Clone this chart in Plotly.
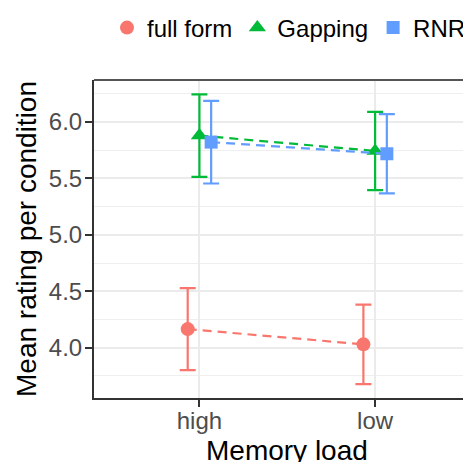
import plotly.graph_objects as go

categories = ["high", "low"]
cat_pos = [1, 2]
series = ["full form", "Gapping", "RNR"]
means = {
    "full form": [4.165, 4.030],
    "Gapping": [5.878, 5.742],
    "RNR": [5.820, 5.717],
}
errors = {
    "full form": [0.363, 0.352],
    "Gapping": [0.365, 0.346],
    "RNR": [0.366, 0.351],
}
x_title = "Memory load"
y_title = "Mean rating per condition"
dodge = [-0.0667, 0.0, 0.0667]
colors = ["#F8766D", "#00BA38", "#619CFF"]
symbols = ["circle", "triangle-up", "square"]
sizes = [14, 15, 13]

# page body has an 8px default margin; the figure is sized to fill the rest
W, H = 463, 454

fig = go.Figure()
for i, s in enumerate(series):
    xs = [p + dodge[i] for p in cat_pos]
    fig.add_trace(go.Scatter(
        x=xs, y=means[s], mode="lines", showlegend=False,
        line=dict(color=colors[i], width=2.2, dash="9px,6px"),
        hoverinfo="skip",
    ))
    fig.add_trace(go.Scatter(
        x=xs, y=means[s], mode="markers", name=s,
        marker=dict(color=colors[i], symbol=symbols[i], size=sizes[i]),
        error_y=dict(type="data", array=errors[s], color=colors[i],
                     thickness=2.2, width=8),
    ))

fig.update_layout(
    width=W, height=H,
    margin=dict(l=86, r=0, t=72, b=64, autoexpand=False),
    paper_bgcolor="white", plot_bgcolor="white",
    font=dict(family="Liberation Sans, Arial, sans-serif", color="black"),
    showlegend=True,
    legend=dict(
        orientation="h", xref="container", yref="container",
        x=99 / W, xanchor="left", y=1 - 20 / H, yanchor="middle",
        font=dict(size=24, color="black"),
        itemsizing="trace", bgcolor="rgba(0,0,0,0)",
    ),
    xaxis=dict(
        range=[0.4, 0.4 + 377 / 175.7],
        tickvals=cat_pos, ticktext=categories,
        showgrid=True, gridcolor="#EBEBEB", gridwidth=1.5,
        zeroline=False,
        showline=True, linecolor="#333333", linewidth=2,
        ticks="outside", ticklen=7, tickwidth=2, tickcolor="#333333",
        tickfont=dict(size=24, color="#4D4D4D"),
        ticklabelstandoff=-7,
    ),
    yaxis=dict(
        range=[3.555, 6.37],
        tick0=4.0, dtick=0.5, tickformat=".1f",
        showgrid=True, gridcolor="#EBEBEB", gridwidth=1.5,
        minor=dict(dtick=0.25, tick0=3.75, showgrid=True, gridcolor="#EFEFEF", gridwidth=1),
        zeroline=False,
        showline=True, linecolor="#333333", linewidth=2,
        ticks="outside", ticklen=7, tickwidth=2, tickcolor="#333333",
        tickfont=dict(size=24, color="#4D4D4D"),
        ticklabelstandoff=-2,
        title=dict(text=y_title, font=dict(size=28, color="black"), standoff=4),
    ),
    shapes=[dict(type="line", xref="paper", yref="paper", x0=0, x1=1, y0=1, y1=1,
                 line=dict(color="#555555", width=2))],
    annotations=[dict(
        text=x_title, xref="paper", yref="paper", x=0.512, y=0,
        xanchor="center", yanchor="middle", yshift=-52, showarrow=False,
        font=dict(size=28, color="black"),
    )],
)

fig.write_html("out.html")
